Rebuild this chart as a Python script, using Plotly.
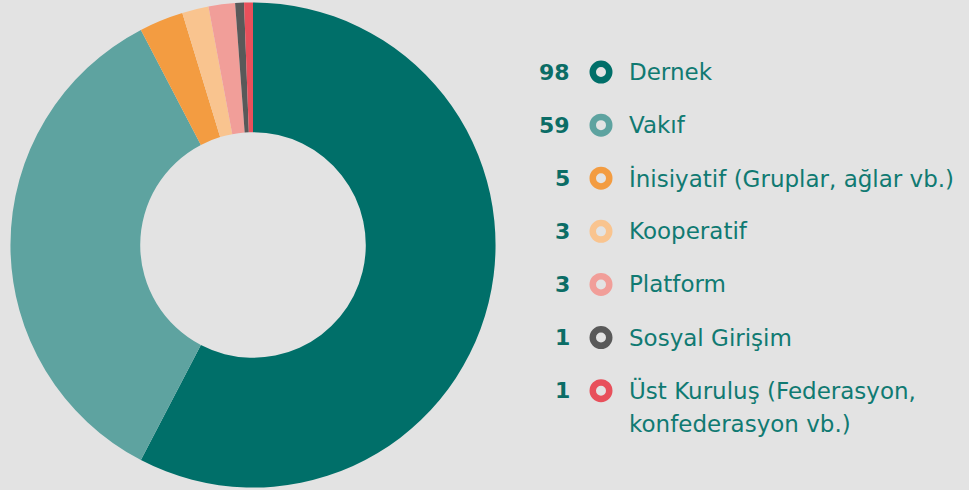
import plotly.graph_objects as go

labels = ['Dernek', 'Vakıf', 'İnisiyatif (Gruplar, ağlar vb.)', 'Kooperatif',
          'Platform', 'Sosyal Girişim', 'Üst Kuruluş (Federasyon,<br>konfederasyon vb.)']
values = [98, 59, 5, 3, 3, 1, 1]
colors = ['#006f69', '#5ea3a0', '#f39c41', '#f9c48f', '#f19e99', '#595959', '#e8505b']

bg = '#e3e3e3'
teal = '#107a72'
font = 'DejaVu Sans'

fig = go.Figure()

fig.add_trace(go.Pie(
    labels=labels, values=values, sort=False, direction='clockwise', rotation=0,
    hole=0.465, marker=dict(colors=colors, line=dict(width=0)),
    textinfo='none', hoverinfo='label+value', showlegend=False,
    domain=dict(x=[10 / 969, 496 / 969], y=[0.005, 0.995])
))

# legend drawn by hand: ring markers on a hidden axis, one row per category
rows = list(range(len(labels)))
fig.add_trace(go.Scatter(
    x=[601] * len(rows), y=rows, mode='markers', showlegend=False, hoverinfo='skip',
    marker=dict(symbol='circle-open', size=16.5, color=colors, line=dict(width=6.5, color=colors)),
    xaxis='x', yaxis='y'
))

for i, (lab, val) in enumerate(zip(labels, values)):
    fig.add_annotation(x=572 / 969, xref='paper', y=i, yref='y', text=f'<b>{val}</b>',
                       showarrow=False, xanchor='right', yanchor='middle',
                       font=dict(family=font, size=22, color='#0b6d66'))
    for k, part in enumerate(lab.split('<br>')):
        fig.add_annotation(x=627 / 969, xref='paper', y=i, yref='y', text=part,
                           showarrow=False, xanchor='left', yanchor='middle',
                           yshift=-33 * k, align='left',
                           font=dict(family=font, size=23, color=teal))

fig.update_layout(
    width=969, height=490, margin=dict(l=0, r=0, t=0, b=0),
    paper_bgcolor=bg, plot_bgcolor=bg,
    xaxis=dict(domain=[0, 1], range=[0, 969], visible=False, fixedrange=True),
    yaxis=dict(domain=[0, 1], range=[7.87, -1.356], visible=False, fixedrange=True),
)

fig.write_html('out.html', config={'displayModeBar': False},
               post_script="document.body.style.margin='0';")
